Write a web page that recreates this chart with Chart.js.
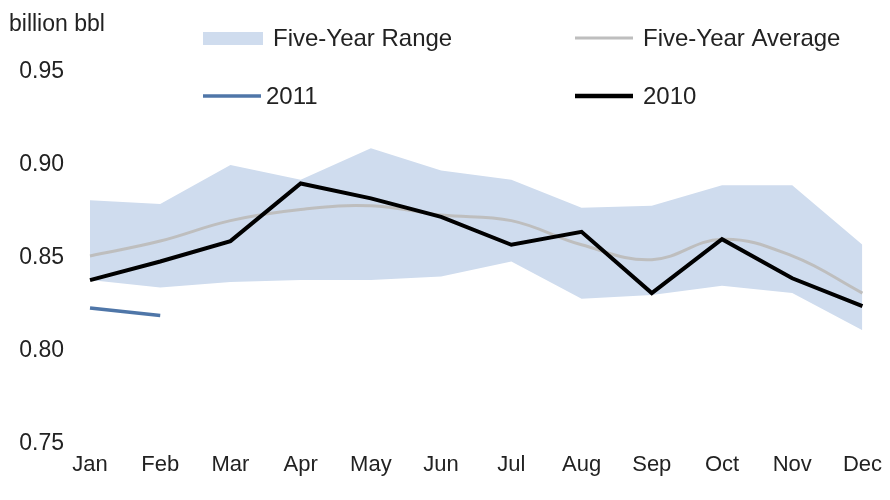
<!DOCTYPE html>
<html>
<head>
<meta charset="utf-8">
<script src="https://cdn.jsdelivr.net/npm/chart.js@4"></script>
<style>
  html,body{margin:0;padding:0;background:#fff;}
  #wrap{position:relative;width:890px;height:500px;}
</style>
</head>
<body>
<div id="wrap"><canvas id="myChart" width="890" height="500"></canvas></div>
<script>
let months = ["Jan","Feb","Mar","Apr","May","Jun","Jul","Aug","Sep","Oct","Nov","Dec"];
let range_low  = [0.838,0.834,0.837,0.838,0.838,0.840,0.848,0.828,0.830,0.835,0.831,0.811];
let range_high = [0.881,0.879,0.900,0.892,0.909,0.897,0.892,0.877,0.878,0.889,0.889,0.857];
let avg5 = [0.851,0.859,0.870,0.876,0.878,0.873,0.870,0.857,0.849,0.860,0.851,0.831];
let y2010 = [0.838,0.848,0.859,0.890,0.882,0.872,0.857,0.864,0.831,0.860,0.839,0.824];
let y2011 = [0.823,0.819,null,null,null,null,null,null,null,null,null,null];
let y_ticks = [0.75,0.80,0.85,0.90,0.95];

let color = {"band":"rgb(207,220,238)","avg":"rgb(190,190,190)","y2011":"rgb(79,118,168)","y2010":"rgb(0,0,0)"};
let font_main = "Arial, 'Liberation Sans', sans-serif";

// 凡例は2x2で手描き
const legendItems = [
  {text:"Five-Year Range", box:true, col:color.band, x:203, y:38, tx:273},
  {text:"Five-Year Average", box:false, col:color.avg, w:3, x:575, y:38, tx:643},
  {text:"2011", box:false, col:color.y2011, w:3.5, x:203, y:96, tx:266},
  {text:"2010", box:false, col:color.y2010, w:4.5, x:575, y:96, tx:643}
];

const customLegend = {
  id:"customLegend",
  afterDraw:(chart)=>{
    let ctx = chart.ctx;
    ctx.save();
    ctx.fillStyle = "#222";
    ctx.font = "23px " + font_main;
    ctx.textBaseline = "alphabetic";
    ctx.fillText("billion bbl", 9, 31);
    legendItems.forEach((it)=>{
      if(it.box){
        ctx.fillStyle = it.col;
        ctx.fillRect(it.x, it.y-6, 60, 13);
      }else{
        ctx.strokeStyle = it.col;
        ctx.lineWidth = it.w;
        ctx.beginPath();
        ctx.moveTo(it.x, it.y);
        ctx.lineTo(it.x+58, it.y);
        ctx.stroke();
      }
      ctx.fillStyle = "#222";
      ctx.font = "24px " + font_main;
      ctx.textBaseline = "middle";
      ctx.fillText(it.text, it.tx, it.y+1);
    });
    ctx.restore();
  }
};

let data = {
  labels: months,
  datasets: [
    {label:"low", data:range_low, borderWidth:0, pointRadius:0, fill:false, order:4},
    {label:"Five-Year Range", data:range_high, borderWidth:0, pointRadius:0, backgroundColor:color.band, fill:"-1", order:3},
    {label:"Five-Year Average", data:avg5, borderColor:color.avg, borderWidth:3, pointRadius:0, tension:0.4, fill:false, order:2},
    {label:"2011", data:y2011, borderColor:color.y2011, borderWidth:3.5, pointRadius:0, fill:false, order:1},
    {label:"2010", data:y2010, borderColor:color.y2010, borderWidth:4, pointRadius:0, fill:false, order:0}
  ]
};

let config = {
  type:"line",
  data:data,
  plugins:[customLegend],
  options:{
    responsive:false,
    animation:false,
    layout:{padding:{top:72,right:20,bottom:14,left:0}},
    plugins:{legend:{display:false},tooltip:{enabled:false}},
    scales:{
      x:{
        offset:false,
        grid:{display:false,drawTicks:false},
        border:{display:false},
        ticks:{color:"#222",padding:8,maxRotation:0,autoSkip:false,font:{family:font_main,size:22}}
      },
      y:{
        min:0.75,
        max:0.95,
        afterFit:(scale)=>{ scale.width = 90; },
        afterBuildTicks:(scale)=>{ scale.ticks = y_ticks.map((v)=>({value:v})); },
        grid:{display:false,drawTicks:false},
        border:{display:false},
        ticks:{color:"#222",padding:26,font:{family:font_main,size:23},callback:(v)=>v.toFixed(2)}
      }
    }
  }
};

let myChart = new Chart(document.getElementById("myChart"), config);
</script>
</body>
</html>
